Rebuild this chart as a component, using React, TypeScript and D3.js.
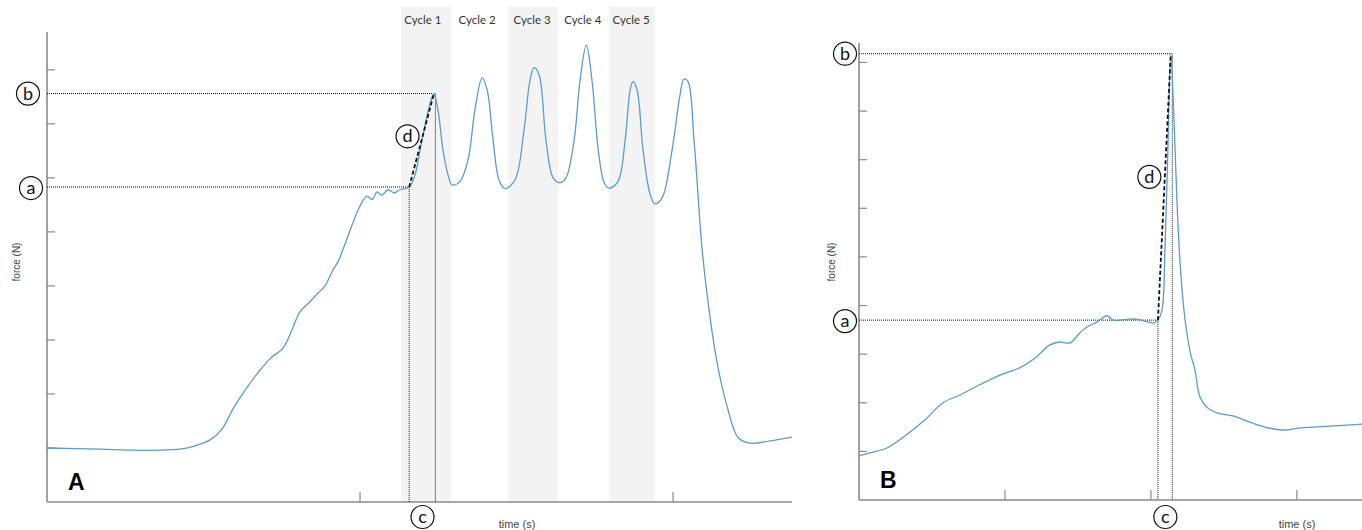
import { useEffect, useRef } from "react";
import * as d3 from "d3";

// Panel A: force over time (time in s, force in N)
const timeA = [0, 1.69, 2.65, 3.61, 4.25, 4.73, 5.21, 5.59, 5.94, 6.33, 6.71, 7.12, 7.54, 7.8, 8.08, 8.35, 8.63, 8.88, 9.14, 9.3, 9.46, 9.74, 10.0, 10.22, 10.4, 10.54, 10.7, 10.89, 11.1, 11.28, 11.57, 11.76, 11.92, 12.11, 12.27, 12.36, 12.49, 12.65, 12.81, 12.94, 13.19, 13.45, 13.67, 13.9, 14.06, 14.25, 14.44, 14.63, 14.95, 15.24, 15.43, 15.56, 15.72, 15.94, 16.17, 16.39, 16.58, 16.84, 17.03, 17.23, 17.41, 17.61, 17.8, 17.96, 18.24, 18.47, 18.63, 18.72, 18.85, 19.04, 19.27, 19.42, 19.65, 19.97, 20.22, 20.35, 20.48, 20.67, 20.93, 21.18, 21.41, 21.73, 22.08, 22.46, 23.1, 23.8];
const forceA = [100, 98, 96, 96, 98, 104, 115, 135, 172, 207, 237, 265, 285, 315, 352, 368, 385, 400, 430, 445, 468, 512, 548, 566, 560, 574, 568, 578, 572, 578, 583, 606, 652, 707, 744, 756, 726, 652, 606, 587, 593, 633, 726, 785, 763, 670, 596, 580, 596, 689, 781, 804, 791, 670, 600, 591, 600, 670, 781, 846, 781, 652, 591, 581, 593, 670, 763, 778, 763, 652, 569, 552, 563, 652, 752, 783, 778, 670, 467, 343, 257, 176, 119, 109, 113, 120];

// Panel B
const timeB = [0, 0.38, 0.96, 1.58, 2.26, 2.88, 3.46, 4.14, 4.83, 5.51, 6.03, 6.54, 6.88, 7.23, 7.57, 7.81, 8.15, 8.49, 8.7, 8.94, 9.28, 9.52, 9.79, 10.07, 10.24, 10.38, 10.48, 10.58, 10.68, 10.79, 10.89, 10.99, 11.13, 11.23, 11.37, 11.51, 11.68, 11.95, 12.26, 12.81, 13.39, 13.9, 14.52, 15.1, 16.13, 17.23];
const forceB = [91, 97, 107, 132, 165, 200, 216, 237, 257, 272, 292, 319, 325, 323, 344, 356, 366, 379, 370, 370, 372, 372, 368, 364, 370, 391, 514, 720, 918, 782, 617, 494, 391, 344, 298, 267, 212, 189, 179, 173, 160, 150, 144, 148, 152, 156];

const cycleNames = ["Cycle 1", "Cycle 2", "Cycle 3", "Cycle 4", "Cycle 5"];
const cycleCentres = [12.01, 13.74, 15.5, 17.12, 18.66];
const shadedBands = [[11.31, 12.91], [14.73, 16.33], [17.96, 19.42]];

const font = "Lato, 'Open Sans', sans-serif";

export default function App() {
    const ref = useRef<SVGSVGElement>(null);

    useEffect(() => {
        const svg = d3.select(ref.current);
        svg.selectAll("*").remove();

        function panel(opts: any) {
            const { t, f, xDomain, xRange, yDomain, yRange, xTicks, yTicks, aT, bT, letter, yLabelX, timeX, bands } = opts;
            const x = d3.scaleLinear().domain(xDomain).range(xRange);
            const y = d3.scaleLinear().domain(yDomain).range(yRange);
            const g = svg.append("g");

            // shaded cycle bands
            if (bands) {
                bands.forEach((b: number[]) => {
                    g.append("rect")
                        .attr("x", x(b[0])).attr("width", x(b[1]) - x(b[0]))
                        .attr("y", y(917)).attr("height", y(0) - y(917))
                        .attr("fill", "#f3f3f3");
                });
                cycleNames.forEach((c, i) => {
                    g.append("text").attr("x", x(cycleCentres[i])).attr("y", 24)
                        .attr("text-anchor", "middle").attr("font-family", font)
                        .attr("font-size", 11.5).attr("fill", "#333").text(c);
                });
            }

            // axes
            const axisCol = "#8a8a8a";
            g.append("line").attr("x1", x(0)).attr("x2", x(0)).attr("y1", y(yDomain[1])).attr("y2", y(0))
                .attr("stroke", axisCol).attr("stroke-width", 1.6);
            g.append("line").attr("x1", x(0)).attr("x2", xRange[1]).attr("y1", y(0)).attr("y2", y(0))
                .attr("stroke", axisCol).attr("stroke-width", 1.6);
            yTicks.forEach((v: number) => {
                g.append("line").attr("x1", x(0)).attr("x2", x(0) + 8).attr("y1", y(v)).attr("y2", y(v))
                    .attr("stroke", axisCol).attr("stroke-width", 1.2);
            });
            xTicks.forEach((v: number) => {
                g.append("line").attr("x1", x(v)).attr("x2", x(v)).attr("y1", y(0)).attr("y2", y(0) - 10)
                    .attr("stroke", axisCol).attr("stroke-width", 1.2);
            });

            // axis titles
            g.append("text").attr("transform", `translate(${yLabelX},262) rotate(-90)`)
                .attr("text-anchor", "middle").attr("font-family", "'Liberation Sans', Arial, sans-serif")
                .attr("font-size", 10).attr("fill", "#444").text("force (N)");
            g.append("text").attr("x", timeX).attr("y", 528)
                .attr("text-anchor", "middle").attr("font-family", "'Liberation Sans', Arial, sans-serif")
                .attr("font-size", 11).attr("fill", "#444").text("time (s)");

            // dotted guides
            const aF = f[t.indexOf(aT)];
            const bF = f[t.indexOf(bT)];
            const dotted = (x1: number, y1: number, x2: number, y2: number) =>
                g.append("line").attr("x1", x1).attr("y1", y1).attr("x2", x2).attr("y2", y2)
                    .attr("stroke", "#111").attr("stroke-width", 1).attr("stroke-dasharray", "1,1");
            dotted(x(0), y(aF), x(aT), y(aF));
            dotted(x(0), y(bF), x(bT), y(bF));
            dotted(x(aT), y(aF), x(aT), y(0));
            dotted(x(bT) + 1.5, y(bF), x(bT) + 1.5, y(0));

            // curve
            const line = d3.line<number>().x((d, i) => x(t[i])).y(d => y(d)).curve(d3.curveCatmullRom.alpha(0.5));
            g.append("path").datum(f).attr("d", line).attr("fill", "none")
                .attr("stroke", "#5b9bd0").attr("stroke-width", 1.3);

            // slope line d
            g.append("line").attr("x1", x(aT)).attr("y1", y(aF)).attr("x2", x(bT)).attr("y2", y(bF))
                .attr("stroke", "#111").attr("stroke-width", 1.8).attr("stroke-dasharray", "4,2.5");

            // circled labels
            const circ = (cx: number, cy: number, s: string) => {
                g.append("circle").attr("cx", cx).attr("cy", cy).attr("r", 11.5)
                    .attr("fill", "white").attr("stroke", "#111").attr("stroke-width", 1.2);
                g.append("text").attr("x", cx).attr("y", cy + 6).attr("text-anchor", "middle")
                    .attr("font-family", font).attr("font-size", 18).attr("fill", "#111").text(s);
            };
            circ(opts.circX, y(bF), "b");
            circ(opts.circX + (letter === "A" ? 3 : 0), y(aF) + 1, "a");
            circ(x((aT + bT) / 2) + opts.dOff[0], y((aF + bF) / 2) + opts.dOff[1], "d");
            circ((x(aT) + x(bT)) / 2 + 1, 517, "c");

            g.append("text").attr("x", x(0) + 21).attr("y", y(0) - 12)
                .attr("font-family", "'Liberation Sans', Arial, sans-serif").attr("font-weight", "bold")
                .attr("font-size", 23).attr("fill", "#000").text(letter);
        }

        panel({
            t: timeA, f: forceA, xDomain: [0, 23.8], xRange: [47, 792], yDomain: [0, 870], yRange: [502, 32],
            xTicks: [10, 20], yTicks: [100, 200, 300, 400, 500, 600, 700, 800], aT: 11.57, bT: 12.36,
            letter: "A", yLabelX: 20, timeX: 517, bands: shadedBands, circX: 28, dOff: [-14, -4]
        });
        panel({
            t: timeB, f: forceB, xDomain: [0, 17.23], xRange: [859, 1362], yDomain: [0, 940], yRange: [500, 43],
            xTicks: [5, 10, 15], yTicks: [100, 200, 300, 400, 500, 600, 700, 800, 900], aT: 10.24, bT: 10.68,
            letter: "B", yLabelX: 835, timeX: 1297, bands: null, circX: 845, dOff: [-15, -10]
        });
    }, []);

    return (
        <svg ref={ref} width={1362} height={530}
            style={{ position: "absolute", left: 0, top: 0, background: "white" }} />
    );
}
